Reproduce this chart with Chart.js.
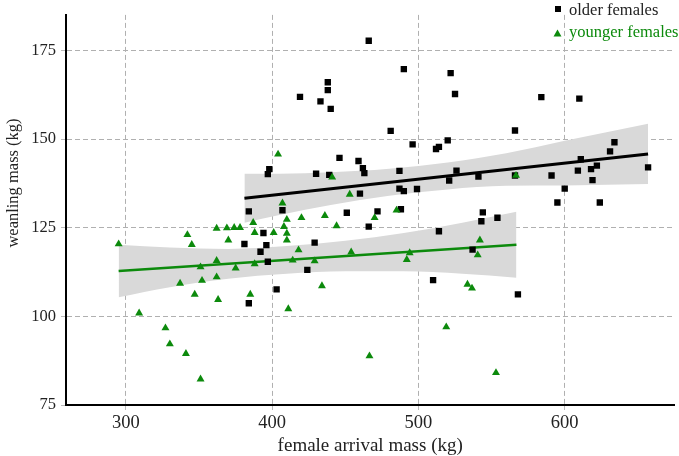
<!DOCTYPE html>
<html><head><meta charset="utf-8">
<script src="https://cdn.jsdelivr.net/npm/chart.js@4/dist/chart.umd.min.js"></script>
<style>html,body{margin:0;padding:0;background:#fff;}#wrap{width:679px;height:456px;position:relative;}</style>
</head><body><div id="wrap"><canvas id="c" width="679" height="456"></canvas></div>
<script>
// ---- data ----
const olderX=[466,490,522,525,438,438,419,433,440,481,496,520,512,514,446,459,462,463,430,439,487,526,521,541,487,490,499,460,407,488,472,451,544,543,554,466,514,566,584,610,634,631,611,622,618,609,657,591,619,600,595,624,566,537,510,568,398,397,384,394,381,396,429,392,397,424,403,384];
const olderY=[177.7,169.7,168.6,162.7,166,163.8,161.9,160.6,158.5,152.3,148.5,149.6,147.2,147.8,144.7,143.8,141.8,140.4,140.2,139.9,141,141.1,138.3,139.4,136,135.3,135.9,134.6,129.9,130.2,129.6,129.2,129.3,126.8,127.8,125.3,124,152.4,161.8,161.4,149.1,146.5,144.3,142.5,141.5,141.1,142,139.7,138.4,136,132.1,132.1,139.7,118.8,110.2,106.2,141.5,140.1,129.6,123.5,120.4,120.1,120.8,118.2,115.4,113.1,107.6,103.7];
const youngerX=[295,309,327,330,341,351,342,345,337,347,351,352,362,362,363,362,369,374,378,370,375,387,388,388,385,401,404,407,410,408,410,410,411,441,453,420,436,444,470,418,454,414,429,434,485,494,492,466.5,519,542,540.5,533.5,536.6,553,566.7];
const youngerY=[120.4,100.9,96.7,92.2,89.5,82.3,123,120.2,109.3,106.2,113.9,110.1,115.7,111.1,104.7,124.8,124.9,125,125,121.5,113.6,126.4,123.6,114.8,106.2,123.6,145.7,131.9,127.3,125.3,123.4,121.5,102.1,139.2,134.4,127.8,128.4,125.5,127.8,118.7,118.1,115.8,115.6,108.6,129.9,117.9,116,88.8,97,121.5,117.3,109,107.9,84.1,139.7];
const olderFitX=[381,657];
const olderFitY=[133.3,145.8];
const youngerFitX=[295,567];
const youngerFitY=[112.8,120.2];
const olderBandX=[381,405,440,480,520,560,600,657];
const olderBandLo=[126.4,128.6,131.4,134.0,135.8,136.8,136.9,137.3];
const olderBandHi=[140.2,140.2,140.6,141.6,143.4,146.0,149.5,154.3];
const youngerBandX=[295,330,370,410,450,490,530,567];
const youngerBandLo=[105.4,108.2,110.6,112.0,112.7,112.7,112.0,110.9];
const youngerBandHi=[120.2,119.4,119.0,119.8,121.3,123.5,126.4,129.5];
const xTicks=[300,400,500,600];
const yTicks=[75,100,125,150,175];
const seriesNames=['older females','younger females'];
const xTitle='female arrival mass (kg)';
const yTitle='weanling mass (kg)';

const GREEN='#0c8a0c';
const FONT='"Liberation Serif","DejaVu Serif",serif';
const pts=(xs,ys)=>xs.map((x,i)=>({x:x,y:ys[i]}));
const bandDs=(xs,ys,fill)=>({data:pts(xs,ys),showLine:true,pointRadius:0,borderWidth:0,borderColor:'rgba(0,0,0,0)',backgroundColor:'#d9d9d9',fill:fill,cubicInterpolationMode:'monotone',order:10});

const overlay={
  id:'overlay',
  afterDraw(chart){
    const ctx=chart.ctx;
    ctx.save();
    ctx.fillStyle='#222';
    ctx.textAlign='center';ctx.textBaseline='middle';
    ctx.font='19px '+FONT;
    ctx.fillText(xTitle,(chart.chartArea.left+chart.chartArea.right)/2,446);
    ctx.font='16.5px '+FONT;
    ctx.save();
    ctx.translate(14,183);ctx.rotate(-Math.PI/2);
    ctx.fillText(yTitle,0,0);
    ctx.restore();
    // legend
    ctx.font='16.5px '+FONT;
    ctx.textAlign='left';ctx.textBaseline='alphabetic';
    ctx.fillStyle='#000';
    ctx.fillRect(555,6,6,6);
    ctx.fillStyle='#222';
    ctx.fillText(seriesNames[0],569,15);
    ctx.fillStyle=GREEN;
    ctx.beginPath();ctx.moveTo(557.5,29.5);ctx.lineTo(561.5,36.5);ctx.lineTo(553.5,36.5);ctx.closePath();ctx.fill();
    ctx.fillText(seriesNames[1],569,37);
    ctx.restore();
  }
};

new Chart(document.getElementById('c'),{
  type:'scatter',
  data:{datasets:[
    bandDs(olderBandX,olderBandLo,false),
    bandDs(olderBandX,olderBandHi,'-1'),
    bandDs(youngerBandX,youngerBandLo,false),
    bandDs(youngerBandX,youngerBandHi,'-1'),
    {data:pts(olderFitX,olderFitY),showLine:true,pointRadius:0,borderColor:'#000',borderWidth:3,order:5},
    {data:pts(youngerFitX,youngerFitY),showLine:true,pointRadius:0,borderColor:GREEN,borderWidth:2.5,order:5},
    {label:seriesNames[0],data:pts(olderX,olderY),pointStyle:'rect',pointRadius:4.5,backgroundColor:'#000',borderWidth:0,order:2},
    {label:seriesNames[1],data:pts(youngerX,youngerY),pointStyle:'triangle',pointRadius:4.6,backgroundColor:GREEN,borderWidth:0,order:1}
  ]},
  options:{
    responsive:false,animation:false,devicePixelRatio:1,
    layout:{padding:{top:8,right:4,left:0,bottom:0}},
    plugins:{legend:{display:false},tooltip:{enabled:false}},
    scales:{
      x:{type:'linear',min:259,max:675,
        afterBuildTicks:s=>{s.ticks=xTicks.map(v=>({value:v}));},
        afterFit:s=>{s.height=51;},
        grid:{color:'#b0b0b0',lineWidth:1,tickLength:5,tickColor:'#bbb'},
        border:{color:'#000',width:2,dash:[5,3]},
        ticks:{font:{family:FONT,size:18.5},color:'#222',padding:2,maxRotation:0}
      },
      y:{type:'linear',min:75,max:185,
        afterBuildTicks:s=>{s.ticks=yTicks.map(v=>({value:v}));},
        afterFit:s=>{s.width=66;},
        grid:{color:'#b0b0b0',lineWidth:1,tickLength:5,tickColor:'#bbb'},
        border:{color:'#000',width:2,dash:[5,3]},
        ticks:{font:{family:FONT,size:16.5},color:'#222',padding:5}
      }
    }
  },
  plugins:[overlay]
});
</script></body></html>
